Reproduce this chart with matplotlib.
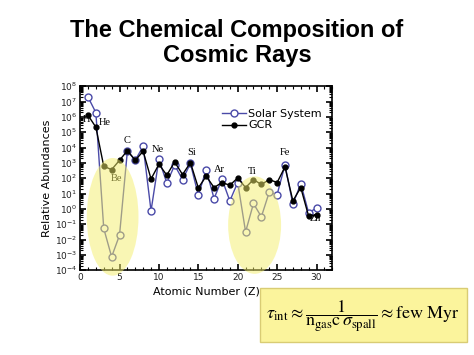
import matplotlib
matplotlib.use("Agg")
import matplotlib.pyplot as plt
from matplotlib.patches import Ellipse, Rectangle
from matplotlib.ticker import LogLocator, MultipleLocator, NullFormatter

# atomic number Z = 1..30
Z = list(range(1, 31))

# log10 of relative abundance
solar_log = [7.3, 6.28, -1.28, -3.13, -1.72, 3.78, 3.17, 4.09, -0.13, 3.24,
             1.69, 2.85, 1.91, 2.96, 0.89, 2.56, 0.67, 1.95, 0.52, 1.72,
             -1.5, 0.35, -0.52, 1.09, 0.93, 2.87, 0.3, 1.65, -0.26, 0.06]
gcr_log = [6.11, 5.33, 2.78, 2.56, 3.17, 3.8, 3.17, 3.76, 1.95, 2.91,
           2.2, 3.06, 2.24, 3.02, 1.37, 2.13, 1.39, 1.72, 1.54, 2.02,
           1.39, 1.91, 1.59, 1.91, 1.72, 2.74, 0.52, 1.39, -0.48, -0.41]

solar = [10 ** v for v in solar_log]
gcr = [10 ** v for v in gcr_log]

# element labels (text, x, log10 y)
elements = ["H", "He", "Be", "C", "Ne", "Si", "Ar", "Ti", "Fe", "Zn"]
elem_x = [0.8, 3.1, 4.6, 5.9, 9.9, 14.1, 17.7, 21.9, 26.0, 29.9]
elem_logy = [5.85, 5.65, 2.0, 4.45, 3.9, 3.65, 2.55, 2.45, 3.65, -0.65]

plt.rcParams['mathtext.fontset'] = 'stix'

fig = plt.figure(figsize=(4.74, 3.55), dpi=100)
ax = fig.add_axes([0.169, 0.239, 0.532, 0.518])

ax.plot(Z, solar, '-o', color='#4a4aa8', lw=1.0, ms=5,
        mfc='white', mec='#4a4aa8', mew=1.0, label='Solar System', zorder=3)
ax.plot(Z, gcr, '-o', color='black', lw=1.0, ms=3.5,
        mfc='black', mec='black', label='GCR', zorder=4)

ax.set_yscale('log')
ax.set_xlim(0, 32)
ax.set_ylim(1e-4, 1e8)
ax.xaxis.set_major_locator(MultipleLocator(5))
ax.xaxis.set_minor_locator(MultipleLocator(1))
ax.yaxis.set_major_locator(LogLocator(base=10, numticks=20))
ax.yaxis.set_minor_locator(LogLocator(base=10, subs=range(2, 10), numticks=20))
ax.yaxis.set_minor_formatter(NullFormatter())
ax.tick_params(which='both', direction='in', top=True, right=True,
               labelsize=6.5, pad=2, labelcolor='#222222')
ax.tick_params(which='major', length=4, width=1.2)
ax.tick_params(which='minor', length=2, width=0.8)
for s in ax.spines.values():
    s.set_linewidth(1.2)

ax.set_xlabel('Atomic Number (Z)', fontsize=8, labelpad=3)
ax.set_ylabel('Relative Abundances', fontsize=8, labelpad=2)

for name, x, ly in zip(elements, elem_x, elem_logy):
    ax.text(x, 10 ** ly, name, fontsize=7.5, family='Liberation Serif',
            ha='center', va='center', zorder=5)

ax.legend(loc='upper left', bbox_to_anchor=(0.53, 0.92), frameon=False,
          fontsize=8, handlelength=2.2, handletextpad=0.2,
          labelspacing=0.15, borderpad=0.2)

# translucent yellow highlights
ax.add_patch(Ellipse((0.129, 0.29), 0.205, 0.64, transform=ax.transAxes,
                     facecolor='#f4ef6a', alpha=0.5, edgecolor='none',
                     zorder=6, clip_on=False))
ax.add_patch(Ellipse((0.692, 0.245), 0.21, 0.53, transform=ax.transAxes,
                     facecolor='#f4ef6a', alpha=0.5, edgecolor='none',
                     zorder=6, clip_on=False))

fig.text(0.5, 0.915, 'The Chemical Composition of', ha='center', va='center',
         fontsize=17, fontweight='bold', family='Liberation Sans')
fig.text(0.5, 0.845, 'Cosmic Rays', ha='center', va='center',
         fontsize=17, fontweight='bold', family='Liberation Sans')

# formula box
fig.patches.append(Rectangle((260 / 474, 1 - 342 / 355), 207 / 474, 54 / 355,
                             transform=fig.transFigure, facecolor='#fbf49c',
                             edgecolor='#d9cc74', lw=1.0))
fig.text(363 / 474, 1 - 316 / 355,
         r'$\tau_{\rm int}\approx\dfrac{1}{{\rm n}_{\rm gas}{\rm c}\,\sigma_{\rm spall}}\approx{\rm few\ Myr}$',
         ha='center', va='center', fontsize=13)

fig.savefig('out.png', dpi=100)
